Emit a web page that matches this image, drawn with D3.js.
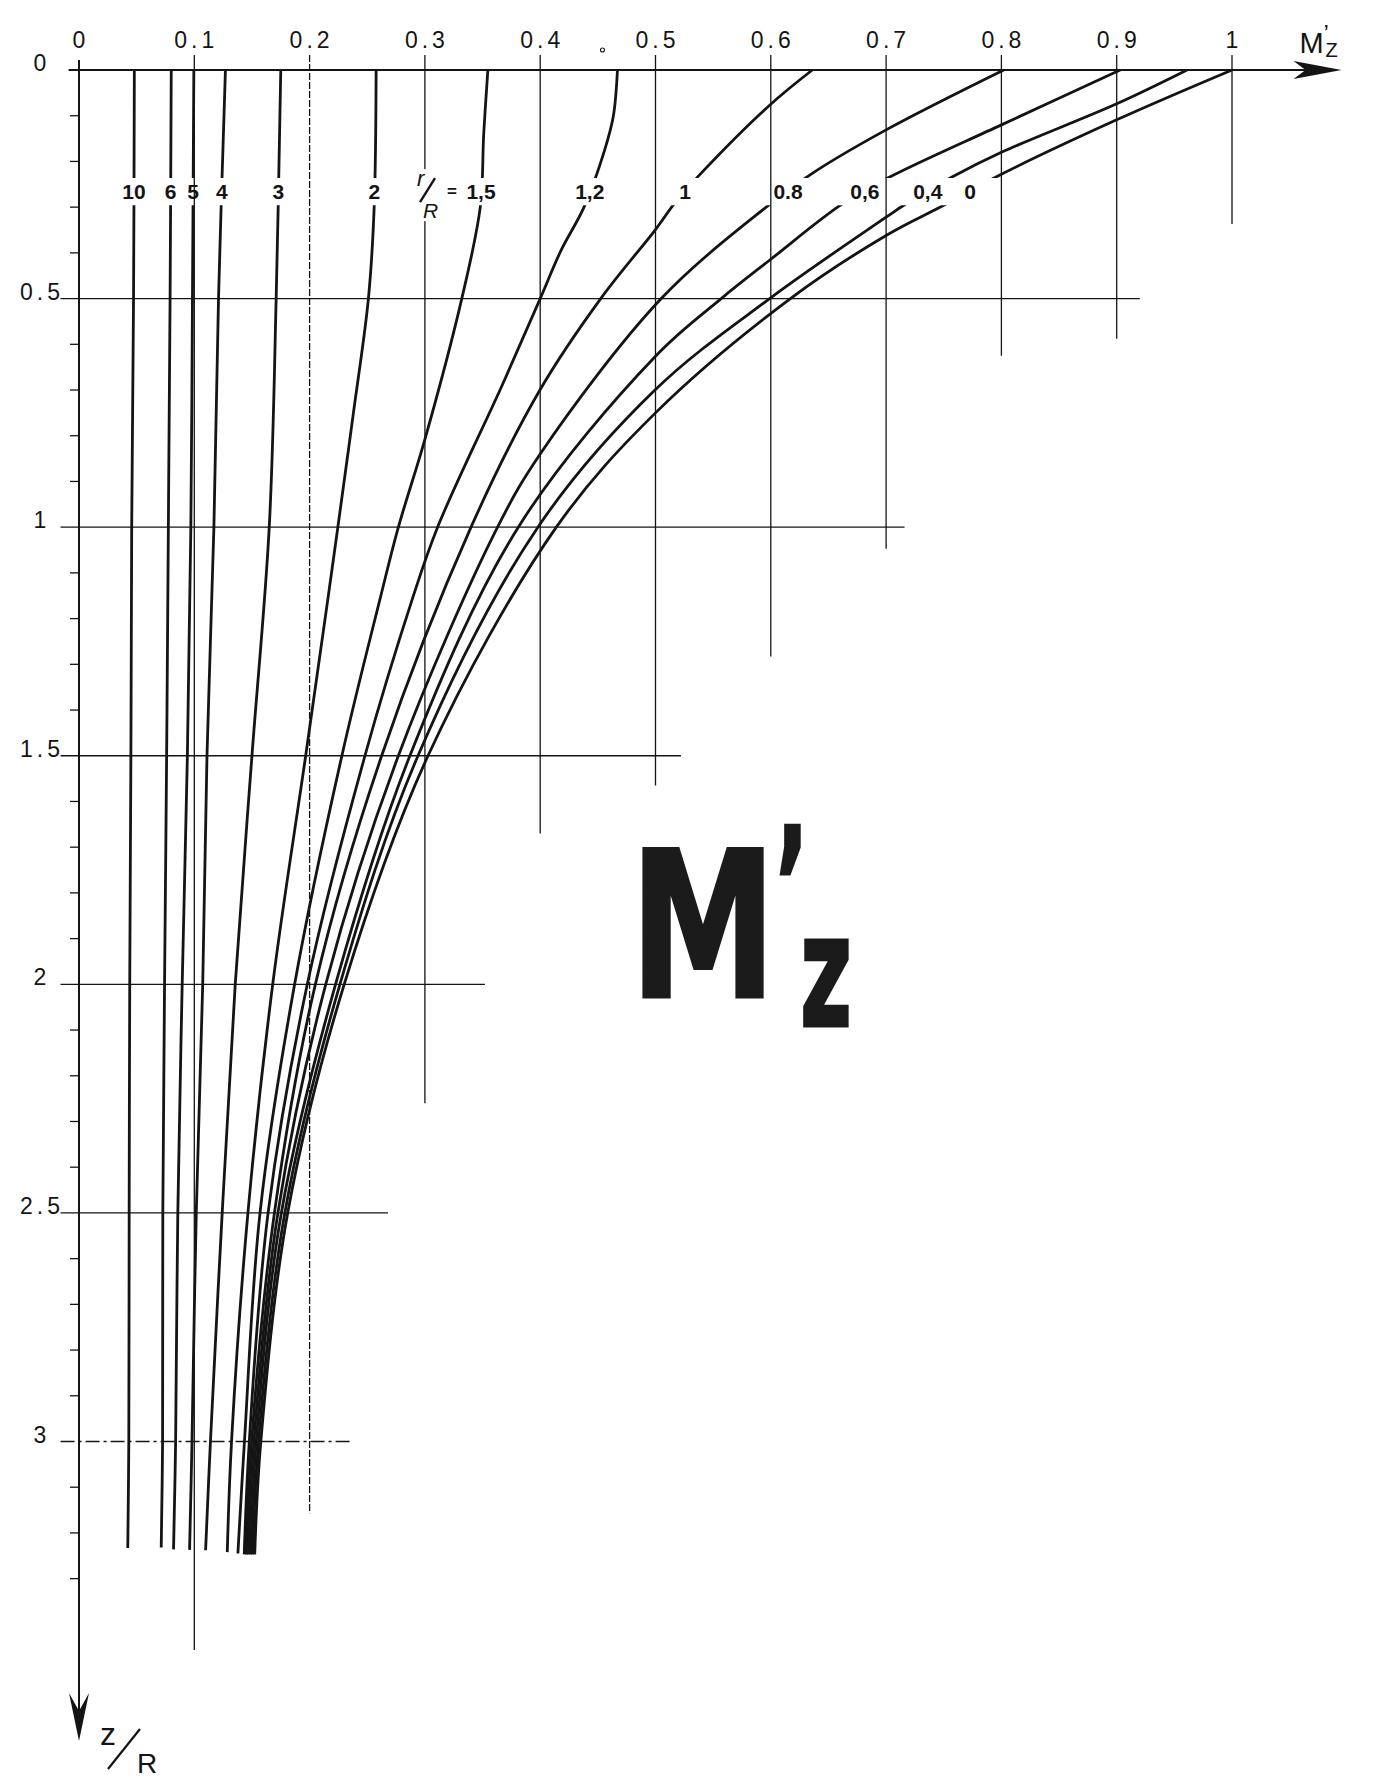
<!DOCTYPE html>
<html><head><meta charset="utf-8">
<script src="https://cdn.jsdelivr.net/npm/d3@7"></script>
<style>body{margin:0;background:#fff}svg{display:block}</style>
</head><body><svg id="c" width="1380" height="1780"></svg>
<script>
// ---------------- DATA ----------------
// r/R values of the curves and their printed labels
const rRatios = ["10","6","5","4","3","2","1.5","1.2","1","0.8","0.6","0.4","0"];
const curveLabels = ["10","6","5","4","3","2","1,5","1,2","1","0.8","0,6","0,4","0"];
// each curve: [z/R, M'z] pairs
const curve10 = [[0,0.048],[0.5,0.0473],[1,0.0457],[1.5,0.045],[2,0.044],[2.5,0.0435],[3,0.0432],[3.233,0.0423]];
const curve6  = [[0,0.080],[0.5,0.079],[1,0.0775],[1.5,0.076],[2,0.0742],[2.5,0.0727],[3,0.0725],[3.232,0.0713]];
const curve5  = [[0,0.0996],[0.5,0.0984],[1,0.097],[1.5,0.094],[2,0.0895],[2.5,0.0857],[3,0.0838],[3.236,0.082]];
const curve4  = [[0,0.127],[0.5,0.121],[1,0.117],[1.5,0.111],[2,0.1073],[2.5,0.1017],[3,0.098],[3.237,0.0959]];
const curve3  = [[0,0.175],[0.5,0.171],[1,0.165],[1.5,0.150],[2,0.1355],[2.5,0.1242],[3,0.114],[3.238,0.1098]];
const curve2  = [[0,0.2577],[0.3,0.256],[0.5,0.251],[0.75,0.238],[1,0.2245],[1.158,0.2158],[1.5,0.1966],[2,0.168],[2.5,0.1465],[3,0.1323],[3.242,0.1286]];
const curve15 = [[0,0.3546],[0.14,0.351],[0.3,0.348],[0.5,0.332],[0.808,0.300],[1,0.277],[1.158,0.261],[1.5,0.228],[2,0.187],[2.5,0.157],[3,0.1435],[3.245,0.1378]];
const curve12 = [[0,0.467],[0.1,0.4635],[0.174,0.456],[0.3,0.438],[0.395,0.418],[0.5,0.400],[0.684,0.368],[1,0.311],[1.158,0.289],[1.5,0.248],[2,0.198],[2.5,0.164],[3,0.1477],[3.247,0.1433]];
const curve1  = [[0,0.636],[0.077,0.599],[0.23,0.538],[0.29,0.517],[0.349,0.500],[0.5,0.4525],[0.699,0.400],[1,0.340],[1.5,0.2625],[2,0.205],[2.5,0.1695],[3,0.1497],[3.247,0.1451]];
const curve08 = [[0,0.802],[0.131,0.700],[0.226,0.636],[0.30,0.596],[0.5,0.505],[0.84,0.400],[1,0.363],[1.5,0.277],[2,0.214],[2.5,0.1725],[3,0.1517],[3.247,0.1469]];
const curve06 = [[0,0.903],[0.12,0.800],[0.233,0.704],[0.293,0.662],[0.414,0.600],[0.5,0.557],[0.626,0.500],[1,0.381],[1.5,0.287],[2,0.2225],[2.5,0.1755],[3,0.1537],[3.247,0.1488]];
const curve04 = [[0,0.961],[0.074,0.900],[0.18,0.800],[0.233,0.758],[0.293,0.717],[0.322,0.700],[0.5,0.599],[0.699,0.500],[1,0.398],[1.5,0.294],[2,0.2263],[2.5,0.1785],[3,0.1557],[3.247,0.1506]];
const curve0  = [[0,1.000],[0.109,0.900],[0.228,0.800],[0.296,0.750],[0.362,0.700],[0.5,0.617],[0.75,0.500],[1,0.414],[1.5,0.3027],[2,0.230],[2.5,0.181],[3,0.1577],[3.247,0.1524]];
const curves = [curve10,curve6,curve5,curve4,curve3,curve2,curve15,curve12,curve1,curve08,curve06,curve04,curve0];

// axis ticks
const xTickValues = [0,0.1,0.2,0.3,0.4,0.5,0.6,0.7,0.8,0.9,1];
const xTickLabels = ["0","0.1","0.2","0.3","0.4","0.5","0.6","0.7","0.8","0.9","1"];
const yTickValues = [0,0.5,1,1.5,2,2.5,3];
const yTickLabels = ["0","0.5","1","1.5","2","2.5","3"];
// grid: vertical lines at M'z = 0.1..1, each drawn down to a depth z/R
const vGridValues = [0.1,0.2,0.3,0.4,0.5,0.6,0.7,0.8,0.9,1];
const vGridEnd    = [3.456,3.157,2.26,1.67,1.565,1.283,1.047,0.625,0.588,0.337];
// horizontal lines at z/R = 0.5..3, each drawn to an M'z value
const hGridValues = [0.5,1,1.5,2,2.5,3];
const hGridEnd    = [0.92,0.716,0.522,0.352,0.268,0.236];
const labelDepth = 0.265;          // z/R where curve labels sit
const gapDepth = [0.236,0.296];    // curves are interrupted for the labels

// ---------------- DRAW ----------------
const svg = d3.select("#c");
const ink = "#141414";
const sans = "'Liberation Sans', Arial, Helvetica, sans-serif";
svg.append("rect").attr("width",1380).attr("height",1780).attr("fill","#fff");

const x = d3.scaleLinear().domain([0,1]).range([79,1232]);
const y = d3.scaleLinear().domain([0,3]).range([70,1441.5]);

// grid
const grid = svg.append("g").attr("stroke",ink).attr("stroke-width",1.3).attr("fill","none");
grid.selectAll("line.v").data(vGridValues).join("line").attr("class","v")
  .attr("x1",d=>x(d)).attr("x2",d=>x(d)).attr("y1",y(0)-15).attr("y2",(d,i)=>y(vGridEnd[i]))
  .attr("stroke-dasharray",d=>d===0.2?"7,2":null);
grid.selectAll("line.h").data(hGridValues).join("line").attr("class","h")
  .attr("y1",d=>y(d)).attr("y2",d=>y(d)).attr("x1",x(-0.016)).attr("x2",(d,i)=>x(hGridEnd[i]))
  .attr("stroke-dasharray",d=>d===3?"14,4,3,4":null);

// minor ticks on the depth axis
const minor = d3.range(1,34).map(i=>i/10).filter(v=>Math.round(v*10)%5!==0);
grid.selectAll("line.m").data(minor).join("line").attr("class","m")
  .attr("x1",x(0)-9).attr("x2",x(0)).attr("y1",d=>y(d)).attr("y2",d=>y(d));

// axes
const axes = svg.append("g").attr("stroke",ink).attr("stroke-width",2).attr("fill","none");
const x0 = x(0), y0 = y(0);
const xTip = x(1.095), yTip = y(3.655);
axes.append("line").attr("x1",x(-0.009)).attr("x2",xTip-30).attr("y1",y0).attr("y2",y0);
axes.append("line").attr("x1",x0).attr("x2",x0).attr("y1",y0-10).attr("y2",yTip-25);
svg.append("path").attr("fill",ink)
  .attr("d",`M${xTip},${y0} L${xTip-48},${y0-9} L${xTip-36},${y0} L${xTip-48},${y0+9} Z`);
svg.append("path").attr("fill",ink)
  .attr("d",`M${x0},${yTip} L${x0-10},${yTip-48} L${x0},${yTip-30} L${x0+10},${yTip-48} Z`);

// tick labels
svg.selectAll("text.xt").data(xTickValues).join("text").attr("class","xt")
  .attr("x",d=>x(d)+2).attr("y",y0-22).attr("text-anchor","middle")
  .attr("font-family",sans).attr("font-size",23).attr("letter-spacing",4).attr("fill",ink)
  .text((d,i)=>xTickLabels[i]);
svg.selectAll("text.yt").data(yTickValues).join("text").attr("class","yt")
  .attr("x",42).attr("y",d=>y(d)+1).attr("text-anchor","middle")
  .attr("font-family",sans).attr("font-size",23).attr("letter-spacing",4).attr("fill",ink)
  .text((d,i)=>yTickLabels[i]);
svg.append("circle").attr("cx",x(0.454)).attr("cy",y0-20).attr("r",2).attr("fill","none").attr("stroke",ink).attr("stroke-width",1.1);

// axis titles
svg.append("text").attr("x",xTip-42).attr("y",y0-17).attr("font-family",sans).attr("font-size",29).attr("fill",ink).text("M");
svg.append("text").attr("x",xTip-18).attr("y",y0-28).attr("font-family",sans).attr("font-size",24).attr("fill",ink).text("’");
svg.append("text").attr("x",xTip-16).attr("y",y0-13).attr("font-family",sans).attr("font-size",20).attr("fill",ink).text("Z");
svg.append("text").attr("x",x0+21).attr("y",yTip+4).attr("font-family",sans).attr("font-size",32).attr("fill",ink).text("z");
svg.append("line").attr("x1",x0+29).attr("y1",yTip+28).attr("x2",x0+61).attr("y2",yTip-12).attr("stroke",ink).attr("stroke-width",2.2);
svg.append("text").attr("x",x0+58).attr("y",yTip+32).attr("font-family",sans).attr("font-size",28).attr("fill",ink).text("R");

// curves, interrupted where the labels sit
const defs = svg.append("defs");
const cp = defs.append("clipPath").attr("id","gap");
cp.append("rect").attr("x",0).attr("y",0).attr("width",1380).attr("height",y(gapDepth[0]));
cp.append("rect").attr("x",0).attr("y",y(gapDepth[1])).attr("width",1380).attr("height",1780);
const line = d3.line().x(d=>x(d[1])).y(d=>y(d[0])).curve(d3.curveCatmullRom.alpha(0.5));
svg.append("g").attr("clip-path","url(#gap)")
  .selectAll("path").data(curves).join("path")
  .attr("d",line).attr("fill","none").attr("stroke",ink).attr("stroke-width",2.8);

// curve labels
function valueAt(c, z){
  for(let i=1;i<c.length;i++){ if(c[i][0]>=z){ const a=c[i-1],b=c[i],t=(z-a[0])/(b[0]-a[0]); return a[1]+t*(b[1]-a[1]); } }
  return c[c.length-1][1];
}
const ly = y(labelDepth);
svg.selectAll("text.cl").data(curves).join("text").attr("class","cl")
  .attr("x",d=>x(valueAt(d,labelDepth))).attr("y",ly+7.5).attr("text-anchor","middle")
  .attr("font-family",sans).attr("font-weight","bold").attr("font-size",21).attr("fill",ink)
  .text((d,i)=>curveLabels[i]);
// "r/R =" prefix to the 1,5 label
const lx15 = x(valueAt(curve15,labelDepth));
svg.append("rect").attr("x",lx15-68).attr("y",ly-22).attr("width",34).attr("height",52).attr("fill","#fff");
svg.append("text").attr("x",lx15-64).attr("y",ly-5).attr("font-family",sans).attr("font-style","italic").attr("font-size",22).attr("fill",ink).text("r");
svg.append("line").attr("x1",lx15-61).attr("y1",ly+11).attr("x2",lx15-46).attr("y2",ly-13).attr("stroke",ink).attr("stroke-width",2.4);
svg.append("text").attr("x",lx15-58).attr("y",ly+27).attr("font-family",sans).attr("font-style","italic").attr("font-size",21).attr("fill",ink).text("R");
svg.append("text").attr("x",lx15-34).attr("y",ly+6).attr("font-family",sans).attr("font-weight","bold").attr("font-size",17).attr("fill",ink).text("=");

// big title
const big = svg.append("g").attr("fill","#1b1b1b").attr("stroke","#1b1b1b").attr("stroke-width",3)
  .attr("font-family","'DejaVu Sans', sans-serif").attr("font-weight","bold");
big.append("text").attr("transform","translate(630,997) scale(0.72,1)").attr("font-size",204).text("M");
// prime and subscript in one text element, placed per character
big.append("text").attr("transform","translate(800,1026) scale(0.57,1)").attr("font-size",157)
  .attr("x","-44 0").attr("y","-86 0").text("’z");
</script></body></html>
